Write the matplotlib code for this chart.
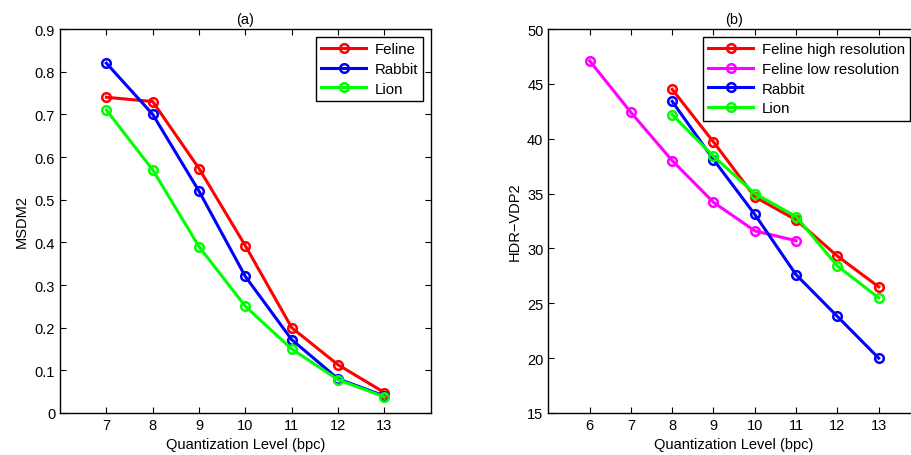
import numpy as np
import matplotlib
matplotlib.use("Agg")
import matplotlib.pyplot as plt

plt.rcParams['font.family'] = ['Liberation Sans', 'DejaVu Sans']
plt.rcParams['font.size'] = 10.5

# (a) MSDM2
levels_a = [7, 8, 9, 10, 11, 12, 13]
msdm_feline = [0.74, 0.73, 0.573, 0.392, 0.200, 0.113, 0.048]
msdm_rabbit = [0.82, 0.70, 0.520, 0.320, 0.172, 0.080, 0.040]
msdm_lion = [0.71, 0.57, 0.390, 0.250, 0.150, 0.078, 0.038]

# (b) HDR-VDP2
levels_hi = [8, 9, 10, 11, 12, 13]
levels_lo = [6, 7, 8, 9, 10, 11]
vdp_feline_hi = [44.5, 39.7, 34.7, 32.6, 29.3, 26.5]
vdp_feline_lo = [47.1, 42.4, 38.0, 34.2, 31.6, 30.7]
vdp_rabbit = [43.4, 38.1, 33.1, 27.6, 23.8, 20.0]
vdp_lion = [42.2, 38.4, 35.0, 32.9, 28.4, 25.5]

RED, BLUE, GREEN, MAGENTA = '#ff0000', '#0000ff', '#00ff00', '#ff00ff'

fig = plt.figure(figsize=(9.11, 4.56), dpi=100)
ax1 = fig.add_axes([60 / 911, 42 / 456, 370.7 / 911, 384 / 456])
ax2 = fig.add_axes([548.3 / 911, 42 / 456, 371.7 / 911, 384 / 456])

style = dict(lw=2.2, marker='o', ms=6.2, mfc='none', mew=1.8)

ax1.plot(levels_a, msdm_feline, color=RED, label='Feline', **style)
ax1.plot(levels_a, msdm_rabbit, color=BLUE, label='Rabbit', **style)
ax1.plot(levels_a, msdm_lion, color=GREEN, label='Lion', **style)
ax1.set_xlim(6, 14)
ax1.set_ylim(0, 0.9)
ax1.set_xticks(levels_a)
ax1.set_yticks(np.arange(0, 0.91, 0.1))
ax1.set_yticklabels(['0'] + [f'{v:.1f}' for v in np.arange(0.1, 0.91, 0.1)])
ax1.set_title('(a)', fontsize=10.5, pad=4)
ax1.set_xlabel('Quantization Level (bpc)')
ax1.set_ylabel('MSDM2')

ax2.plot(levels_hi, vdp_feline_hi, color=RED, label='Feline high resolution', **style)
ax2.plot(levels_lo, vdp_feline_lo, color=MAGENTA, label='Feline low resolution', **style)
ax2.plot(levels_hi, vdp_rabbit, color=BLUE, label='Rabbit', **style)
ax2.plot(levels_hi, vdp_lion, color=GREEN, label='Lion', **style)
ax2.set_xlim(5, 14)
ax2.set_ylim(15, 50)
ax2.set_xticks(list(range(6, 14)))
ax2.set_yticks(range(15, 51, 5))
ax2.set_title('(b)', fontsize=10.5, pad=4)
ax2.set_xlabel('Quantization Level (bpc)')
ax2.set_ylabel('HDR\u2212VDP2')

# legend top-right corners (figure pixels), (b) is pulled in so it fits the crop
anchors = {ax1: (423.3 / 911, 1 - 38 / 456), ax2: (910 / 911, 1 - 38 / 456)}
for ax in (ax1, ax2):
    ax.tick_params(direction='in', top=True, right=True, length=4, width=0.8)
    for s in ax.spines.values():
        s.set_linewidth(1.0)
    leg = ax.legend(loc='upper right', bbox_to_anchor=anchors[ax],
                    bbox_transform=fig.transFigure, borderaxespad=0,
                    fancybox=False, framealpha=1, edgecolor='black',
                    handlelength=3.0, labelspacing=0.38, borderpad=0.35,
                    handletextpad=0.55, fontsize=10.8)
    leg.get_frame().set_linewidth(1.0)

fig.savefig('out.png', dpi=100)
